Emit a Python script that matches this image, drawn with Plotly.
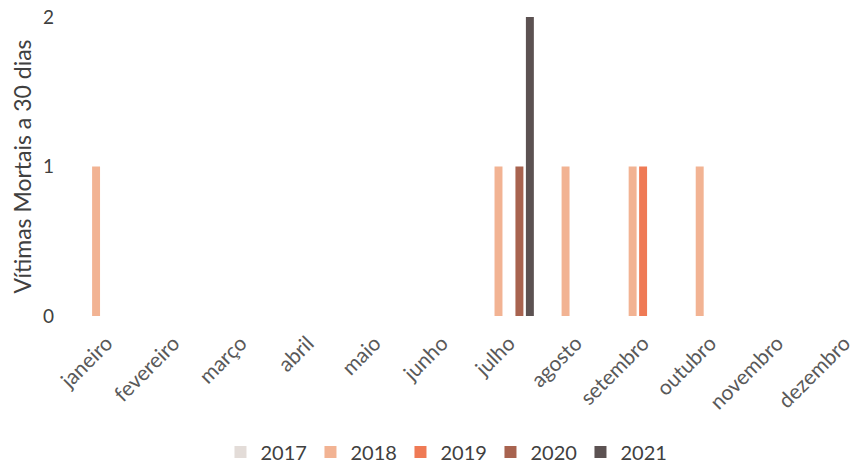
import plotly.graph_objects as go

months = ["janeiro", "fevereiro", "março", "abril", "maio", "junho",
          "julho", "agosto", "setembro", "outubro", "novembro", "dezembro"]
years = ["2017", "2018", "2019", "2020", "2021"]
v2017 = [0, 0, 0, 0, 0, 0, 0, 0, 0, 0, 0, 0]
v2018 = [1, 0, 0, 0, 0, 0, 1, 1, 1, 1, 0, 0]
v2019 = [0, 0, 0, 0, 0, 0, 0, 0, 1, 0, 0, 0]
v2020 = [0, 0, 0, 0, 0, 0, 1, 0, 0, 0, 0, 0]
v2021 = [0, 0, 0, 0, 0, 0, 2, 0, 0, 0, 0, 0]
series = [v2017, v2018, v2019, v2020, v2021]
colors = ["#e3dcd8", "#f2b393", "#ef7a55", "#a8634f", "#5c5252"]

FONT = "Lato, 'Open Sans', sans-serif"
fig = go.Figure()
for y, vals, c in zip(years, series, colors):
    fig.add_trace(go.Bar(name=y, x=months, y=vals, marker=dict(color=c, line=dict(width=0))))

fig.update_layout(
    width=855, height=465,
    margin=dict(l=73, r=0, t=17, b=149),
    paper_bgcolor="white", plot_bgcolor="white",
    barmode="group", bargap=0.22, bargroupgap=0.24,
    font=dict(family=FONT, size=17, color="#595959"),
    legend=dict(orientation="h", x=0.48, xanchor="center", y=0.028, yref="container",
                yanchor="middle", font=dict(size=20, color="#404040"),
                itemwidth=30, entrywidth=45, traceorder="normal"),
    xaxis=dict(tickangle=-45, showgrid=False, showline=False, zeroline=False,
               range=[-0.5, 11.07], ticks="", ticklabelstandoff=10,
               tickfont=dict(size=21, color="#595959")),
    yaxis=dict(range=[0, 2], tickvals=[0, 1, 2], showgrid=False, zeroline=False,
               showline=False, ticks="", ticklabelstandoff=18,
               tickfont=dict(size=19, color="#404040"),
               title=dict(text="Vítimas Mortais a 30 dias", standoff=4,
                          font=dict(size=23, color="#404040"))),
)
fig.write_html("out.html")
